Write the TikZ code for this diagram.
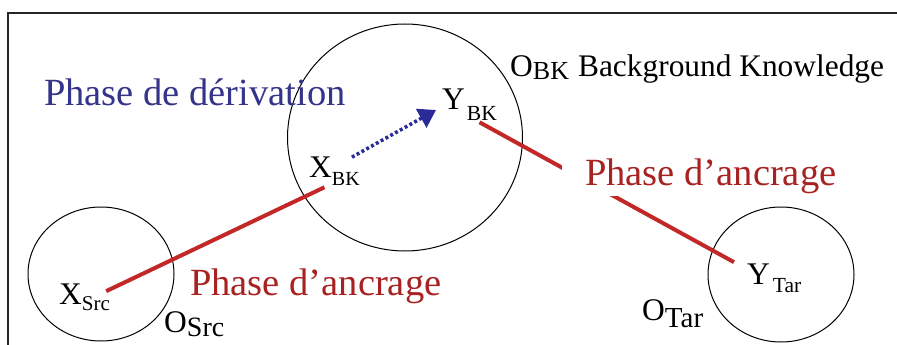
\documentclass[tikz,border=0pt]{standalone}
\usepackage{fontspec}
\setmainfont{Liberation Serif}
\usetikzlibrary{shapes.geometric, arrows.meta}

\definecolor{ancre}{HTML}{A82222}
\definecolor{ancreline}{HTML}{C22828}
\definecolor{derive}{HTML}{34348A}
\definecolor{arrowblue}{HTML}{2A2A99}

\newcommand{\lowsub}[3]{\raisebox{-#1pt}{\fontsize{#2}{#2}\selectfont #3}}

\begin{document}
\begin{tikzpicture}[x=1pt, y=-1pt,
    ring/.style={draw, ellipse, line width=1pt, inner sep=0pt},
    var/.style={anchor=base west, inner sep=0pt, font=\fontsize{31.5}{32}\selectfont},
    phase/.style={anchor=base west, inner sep=0pt, font=\fontsize{38.5}{40}\selectfont},
    anchorline/.style={ancreline, line width=4pt}]
    \useasboundingbox (0,0) rectangle (897,345);
    \clip (0,0) rectangle (897,345);
    \draw[line width=1.5pt, black!85] (8,13) rectangle (930,380);

    % ontologies
    \node[ring, minimum width=235pt, minimum height=227pt] (obk) at (405,137.5) {};
    \node[ring, minimum width=146pt, minimum height=134pt] (osrc) at (101,274) {};
    \node[ring, minimum width=146pt, minimum height=135pt] (otar) at (781,274.5) {};

    % concepts
    \node[var] (xsrc) at (59,304) {X\lowsub{6}{21}{Src}};
    \node[var] (xbk) at (309,177) {X\lowsub{8}{20}{BK}};
    \node[var] (ybk) at (442,110) {Y\hspace{2pt}\lowsub{10}{21.5}{BK}};
    \node[var] (ytar) at (747,284) {Y\hspace{3pt}\lowsub{8}{21.5}{Tar}};

    % ontology names
    \node[var] (obkname) at (510,77) {O\lowsub{3}{26}{BK}\hspace{9pt}\fontsize{31.4}{32}\selectfont Background Knowledge};
    \node[var] (osrcname) at (164,332) {O\lowsub{4}{28}{Src}};
    \node[var] (otarname) at (642,320) {O\lowsub{7}{29}{Tar}};

    % phases
    \node[phase, derive] (deriv) at (44,106) {Phase de dérivation};
    \draw[anchorline] ([shift={(-4,8)}]xsrc.north east) -- ([shift={(-10,2)}]xbk.south);
    \node[phase, ancre] (ancrage1) at (190,295) {Phase d’ancrage};
    \draw[anchorline] ([shift={(10,2)}]ybk.south) -- ([shift={(-13,-1)}]ytar.north west);
    \node[phase, ancre, fill=white, inner xsep=23pt, inner ysep=3pt] (ancrage2) at (562,185) {Phase d’ancrage};

    \draw[arrowblue, line width=3.5pt, dash pattern=on 3pt off 2.5pt, -{Triangle[length=17pt,width=21pt]}]
        ([shift={(-8,1)}]xbk.north east) -- ([shift={(-6,0)}]ybk.base west);
\end{tikzpicture}
\end{document}
